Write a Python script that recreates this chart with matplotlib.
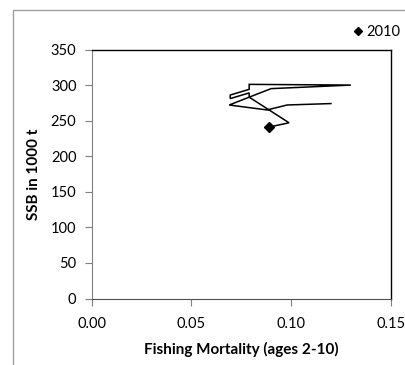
import matplotlib
matplotlib.use("Agg")
import matplotlib.pyplot as plt
from matplotlib.patches import Rectangle
from matplotlib.lines import Line2D

# Trajectory of fishing mortality vs SSB
F = [0.12, 0.098, 0.088, 0.069, 0.079, 0.079, 0.0695, 0.0695, 0.079, 0.079,
     0.13, 0.09, 0.079, 0.099, 0.089]
SSB = [274, 272, 265, 272, 283, 289, 281, 286, 294, 301,
       300, 295, 283, 247, 241]
last_label = "2010"
xticks = [0.00, 0.05, 0.10, 0.15]
yticks = [0, 50, 100, 150, 200, 250, 300, 350]

plt.rcParams['font.family'] = ['Lato', 'DejaVu Sans']

W, H = 406, 365
fig = plt.figure(figsize=(W / 100, H / 100), dpi=100)

# outer chart border (gray), partially visible
fig.patches.append(Rectangle((13 / W, -0.1), 1.2, 1 - 10 / H + 0.1,
                             transform=fig.transFigure, fill=False,
                             edgecolor='#a0a0a0', linewidth=1.0))

ax = fig.add_axes([91.7 / W, 1 - 298.5 / H, (390.7 - 91.7) / W, (298.5 - 49.5) / H])
ax.plot(F, SSB, color='black', linewidth=1.1, solid_joinstyle='miter')
ax.plot(F[-1:], SSB[-1:], linestyle='none', marker='D', markersize=5.5,
        color='black')

ax.set_xlim(0, 0.15)
ax.set_ylim(0, 350)
ax.set_xticks(xticks)
ax.set_xticklabels([f"{v:.2f}" for v in xticks])
ax.set_yticks(yticks)
ax.tick_params(axis='both', direction='out', length=5, width=0.8,
               labelsize=10.5, colors='black')
ax.tick_params(axis='x', pad=8, color='#808080')
ax.tick_params(axis='y', pad=6, color='#808080')
for s in ['top', 'right']:
    ax.spines[s].set_color('black')
    ax.spines[s].set_linewidth(1.0)
ax.spines['left'].set_color('#808080')
ax.spines['bottom'].set_color('#505050')

ax.set_xlabel("Fishing Mortality (ages 2-10)", fontsize=11, fontweight='bold',
              labelpad=8)
ax.set_ylabel("SSB in 1000 t", fontsize=11, fontweight='bold', labelpad=7)

handle = Line2D([], [], linestyle='none', marker='D', markersize=4, color='black')
fig.legend([handle], [last_label], loc='center', bbox_to_anchor=(376 / W, 1 - 32 / H),
           frameon=False, fontsize=10.5, handletextpad=0.2, handlelength=0.8,
           borderaxespad=0)

fig.savefig("out.png", dpi=100)
